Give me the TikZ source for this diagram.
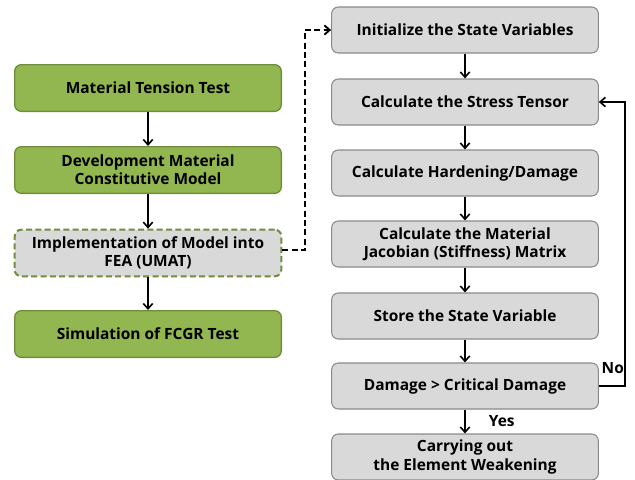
\documentclass[tikz,border=0pt]{standalone}
\usepackage{fontspec}
\setmainfont{Open Sans}
\usetikzlibrary{arrows.meta}

\definecolor{boxgreen}{RGB}{146,182,80}
\definecolor{edgegreen}{RGB}{112,140,60}
\definecolor{boxgray}{RGB}{217,217,217}
\definecolor{edgegray}{RGB}{138,138,138}

\tikzset{
    boxfont/.style = {font=\bfseries\fontsize{11.6}{13.6}\selectfont},
    stage/.style = {draw=edgegreen, fill=boxgreen, line width=1pt, rounded corners=5pt,
        minimum width=200pt, minimum height=35pt, align=center, boxfont},
    umat/.style = {stage, fill=boxgray, dash pattern=on 4.5pt off 2.5pt, line width=1.5pt},
    task/.style = {draw=edgegray, fill=boxgray, line width=0.8pt, rounded corners=5pt,
        minimum width=200pt, minimum height=34.5pt, align=center, boxfont},
    flow/.style = {-{Straight Barb[length=4pt,width=7pt]}, line width=1.2pt}
}

\begin{document}
\begin{tikzpicture}[x=0.75pt, y=-0.75pt]
    \useasboundingbox (0,0) rectangle (635,479);

    % Left column: overall procedure
    \node[stage] (tension) at (148,88)  {Material Tension Test};
    \node[stage] (model)   at (148,170) {Development Material\\Constitutive Model};
    \node[umat]  (impl)    at (148,253) {Implementation of Model into\\FEA (UMAT)};
    \node[stage] (fcgr)    at (148,334) {Simulation of FCGR Test};

    \draw[flow] (tension) -- (model);
    \draw[flow] (model) -- (impl);
    \draw[flow] (impl) -- (fcgr);

    % Right column: UMAT subroutine
    \node[task] (init)    at (465,30)  {Initialize the State Variables};
    \node[task] (stress)  at (465,102) {Calculate the Stress Tensor};
    \node[task] (harden)  at (465,173) {Calculate Hardening/Damage};
    \node[task] (jacob)   at (465,244) {Calculate the Material\\Jacobian (Stiffness) Matrix};
    \node[task] (store)   at (465,316) {Store the State Variable};
    \node[task] (check)   at (465,386) {Damage {>} Critical Damage};
    \node[task] (weaken)  at (465,457) {Carrying out\\the Element Weakening};

    \draw[flow] (init) -- (stress);
    \draw[flow] (stress) -- (harden);
    \draw[flow] (harden) -- (jacob);
    \draw[flow] (jacob) -- (store);
    \draw[flow] (store) -- (check);
    \draw[flow] (check) -- node[right=14pt, boxfont] (yes) {Yes} (weaken);

    % link into the subroutine
    \coordinate (d1) at (305,250);
    \coordinate (d2) at (305,30);
    \draw[flow, dash pattern=on 4.5pt off 2.5pt, line width=1.4pt] (impl.east |- d1) -- (d1) -- (d2) -- (init);

    % loop back when not yet critical
    \coordinate (l1) at (625,386);
    \coordinate (l2) at (625,102);
    \draw[flow] (check) -- (l1) -- (l2) -- (stress);
    \node[boxfont, anchor=south west] (no) at (597,378) {No};
\end{tikzpicture}
\end{document}
